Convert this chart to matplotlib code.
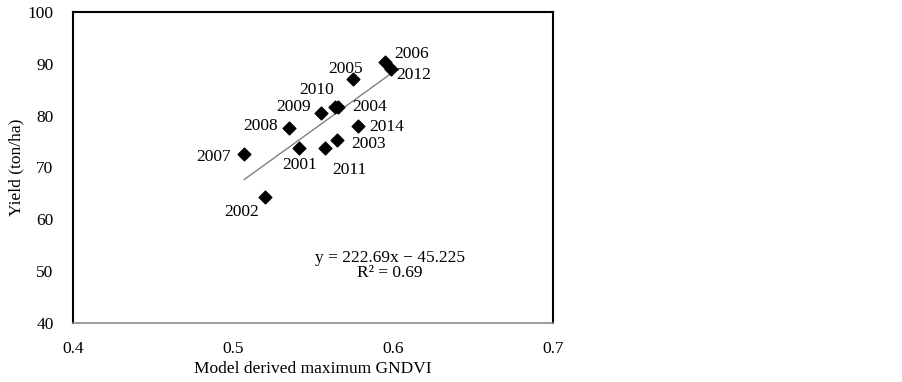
import matplotlib.pyplot as plt
import numpy as np

plt.rcParams['font.family'] = ['Liberation Serif', 'DejaVu Serif']

# Data
years = ['2001', '2002', '2003', '2004', '2005', '2006', '2007',
         '2008', '2009', '2010', '2011', '2012', '2014']
gndvi = [0.5415, 0.520, 0.565, 0.5655, 0.575, 0.5947, 0.507,
         0.535, 0.555, 0.5640, 0.5575, 0.5987, 0.578]
yield_t = [73.8, 64.3, 75.3, 81.7, 87.0, 90.35, 72.6,
           77.7, 80.6, 81.6, 73.8, 89.0, 78.0]

# label offsets in pixels (dx, dy) relative to each marker
offsets = {
    '2001': (0, -17), '2002': (-23, -15), '2003': (32, -4),
    '2004': (32, 0), '2005': (-7, 10), '2006': (27, 8),
    '2007': (-31, -3), '2008': (-28, 2), '2009': (-27, 6),
    '2010': (-19, 17), '2011': (24, -22), '2012': (23, -6),
    '2014': (29, -1),
}

slope, intercept = 222.69, -45.225

fig = plt.figure(figsize=(9.03, 3.82), dpi=100)
ax = fig.add_axes([73/903, 1 - 323/382, 480/903, 311/382])

ax.scatter(gndvi, yield_t, marker='D', s=42, color='black', zorder=3)

xl = np.array([min(gndvi), max(gndvi)])
ax.plot(xl, slope * xl + intercept, color='#7f7f7f', lw=1)

for yr, x, y in zip(years, gndvi, yield_t):
    dx, dy = offsets[yr]
    ax.annotate(yr, (x, y), xytext=(dx, dy), textcoords='offset pixels',
                ha='center', va='center', fontsize=12.5)

ax.text(0.598, 52.45, 'y = 222.69x \u2212 45.225', ha='center', va='center',
        fontsize=12.5)
ax.text(0.598, 49.6, 'R\u00b2 = 0.69', ha='center', va='center', fontsize=12.5)

ax.set_xlim(0.4, 0.7)
ax.set_ylim(40, 100)
ax.set_xticks([0.4, 0.5, 0.6, 0.7])
ax.set_xticklabels(['0.4', '0.5', '0.6', '0.7'])
ax.set_yticks(range(40, 101, 10))
ax.tick_params(length=0, labelsize=12.5)
ax.tick_params(axis='x', pad=13)
ax.tick_params(axis='y', pad=14)

for s in ['left', 'top', 'right']:
    ax.spines[s].set_color('black')
    ax.spines[s].set_linewidth(1.5)
ax.spines['bottom'].set_color('#8a8a8a')
ax.spines['bottom'].set_linewidth(1.2)

ax.set_xlabel('Model derived maximum GNDVI', fontsize=12.5)
ax.set_ylabel('Yield (ton/ha)', fontsize=12.5)
ax.xaxis.set_label_coords(0.5, -0.148)
ax.yaxis.set_label_coords(-0.117, 0.5)
ax.xaxis.label.set_va('center')
ax.yaxis.label.set_va('center')

fig.savefig('out.png', dpi=100)
